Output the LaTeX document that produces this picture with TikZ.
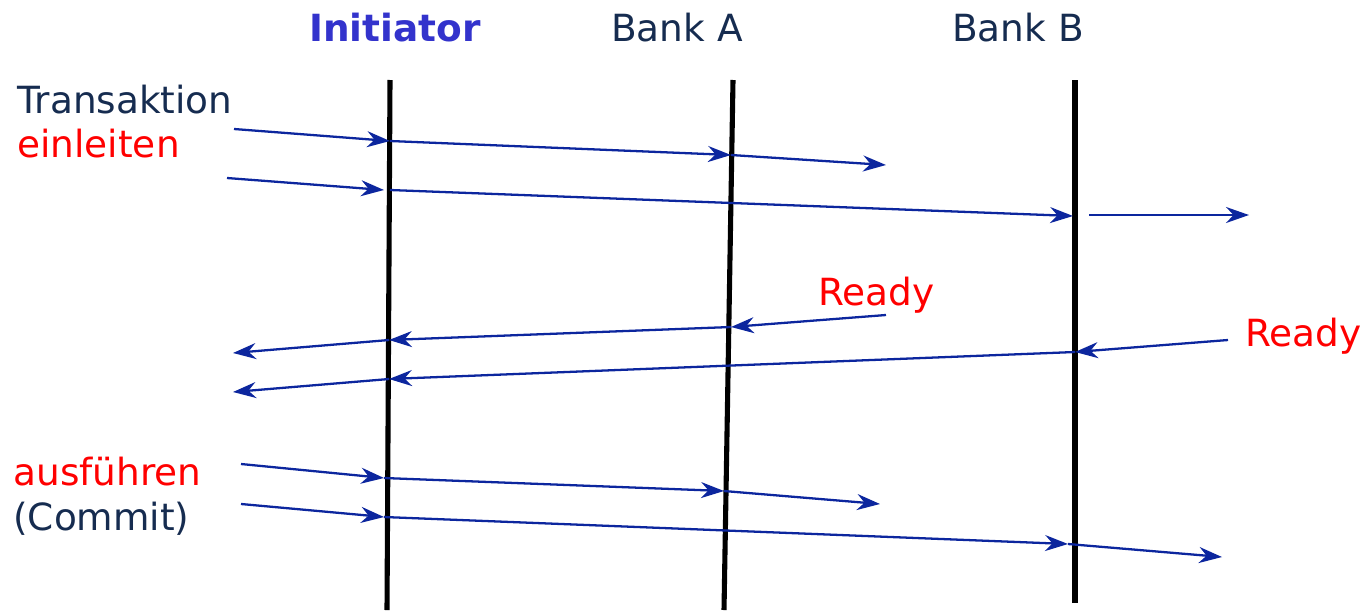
\documentclass[tikz,border=0pt]{standalone}
\usepackage{fontspec}
\setmainfont{DejaVu Sans}
\usetikzlibrary{arrows.meta}
\definecolor{navy}{RGB}{22,44,80}
\definecolor{msgblue}{RGB}{12,38,158}
\definecolor{initblue}{RGB}{51,51,204}
\begin{document}
\begin{tikzpicture}[
        x=0.02cm, y=-0.02cm,
        >={Stealth[length=0.46cm, width=0.32cm, inset=0.15cm]},
        font=\fontsize{21.3}{25}\selectfont,
        lifeline/.style={
            line width=2.9pt,
            draw=black
        },
        msg/.style={
            ->,
            line width=1.3pt,
            draw=msgblue
        },
        head/.style={
            anchor=base,
            text=navy,
            inner sep=0pt
        },
        lbl/.style={
            anchor=base west,
            inner sep=0pt
        }
    ]

    \useasboundingbox (0,0) rectangle (1364,612);

    % headers
    \node[head, text=initblue, font=\fontsize{21.3}{25}\selectfont\bfseries] (initiator) at (395,41) {Initiator};
    \node[head] (banka) at (677,41) {Bank A};
    \node[head] (bankb) at (1018,41) {Bank B};

    % lifelines
    \coordinate (inittop) at (390,80);
    \coordinate (initbot) at (387,610);
    \coordinate (atop) at (733,80);
    \coordinate (abot) at (724,610);
    \coordinate (btop) at (1075,80);
    \coordinate (bbot) at (1075,603);
    \draw[lifeline] (inittop) -- (initbot);
    \draw[lifeline] (atop) -- (abot);
    \draw[lifeline] (btop) -- (bbot);

    % labels
    \node[lbl, text=navy] (transaktion) at (17,113) {Transaktion};
    \node[lbl, text=red] (einleiten) at (17,157) {einleiten};
    \node[lbl, text=red] (ausfuehren) at (13,485) {ausführen};
    \node[lbl, text=navy] (commit) at (13,530) {(Commit)};
    \node[lbl, text=red] (readya) at (818,305) {Ready};
    \node[lbl, text=red] (readyb) at (1245,346) {Ready};

    % einleiten -> Bank A
    \coordinate (p1s) at (234,129);
    \coordinate (p1i) at (390,141);
    \coordinate (p1a) at (731,155);
    \coordinate (p1e) at (886,165);
    \draw[msg] (p1s) -- (p1i);
    \draw[msg] (p1i) -- (p1a);
    \draw[msg] (p1a) -- (p1e);

    % einleiten -> Bank B
    \coordinate (p2s) at (227,178);
    \coordinate (p2i) at (384,190);
    \coordinate (p2j) at (390,190);
    \coordinate (p2b) at (1073,216);
    \coordinate (p2c) at (1089,215);
    \coordinate (p2e) at (1249,215);
    \draw[msg] (p2s) -- (p2i);
    \draw[msg] (p2j) -- (p2b);
    \draw[msg] (p2c) -- (p2e);

    % Ready from Bank A
    \coordinate (r1s) at (886,315);
    \coordinate (r1a) at (731,327);
    \coordinate (r1i) at (389,340);
    \coordinate (r1e) at (233,353);
    \draw[msg] (r1s) -- (r1a);
    \draw[msg] (r1a) -- (r1i);
    \draw[msg] (r1i) -- (r1e);

    % Ready from Bank B
    \coordinate (r2s) at (1228,340);
    \coordinate (r2b) at (1075,352);
    \coordinate (r2i) at (389,379);
    \coordinate (r2e) at (233,392);
    \draw[msg] (r2s) -- (r2b);
    \draw[msg] (r2b) -- (r2i);
    \draw[msg] (r2i) -- (r2e);

    % Commit -> Bank A
    \coordinate (c1s) at (241,464);
    \coordinate (c1i) at (384,478);
    \coordinate (c1a) at (724,491);
    \coordinate (c1e) at (880,504);
    \draw[msg] (c1s) -- (c1i);
    \draw[msg] (c1i) -- (c1a);
    \draw[msg] (c1a) -- (c1e);

    % Commit -> Bank B
    \coordinate (c2s) at (241,504);
    \coordinate (c2i) at (384,517);
    \coordinate (c2b) at (1068,544);
    \coordinate (c2e) at (1222,557);
    \draw[msg] (c2s) -- (c2i);
    \draw[msg] (c2i) -- (c2b);
    \draw[msg] (c2b) -- (c2e);

\end{tikzpicture}
\end{document}
